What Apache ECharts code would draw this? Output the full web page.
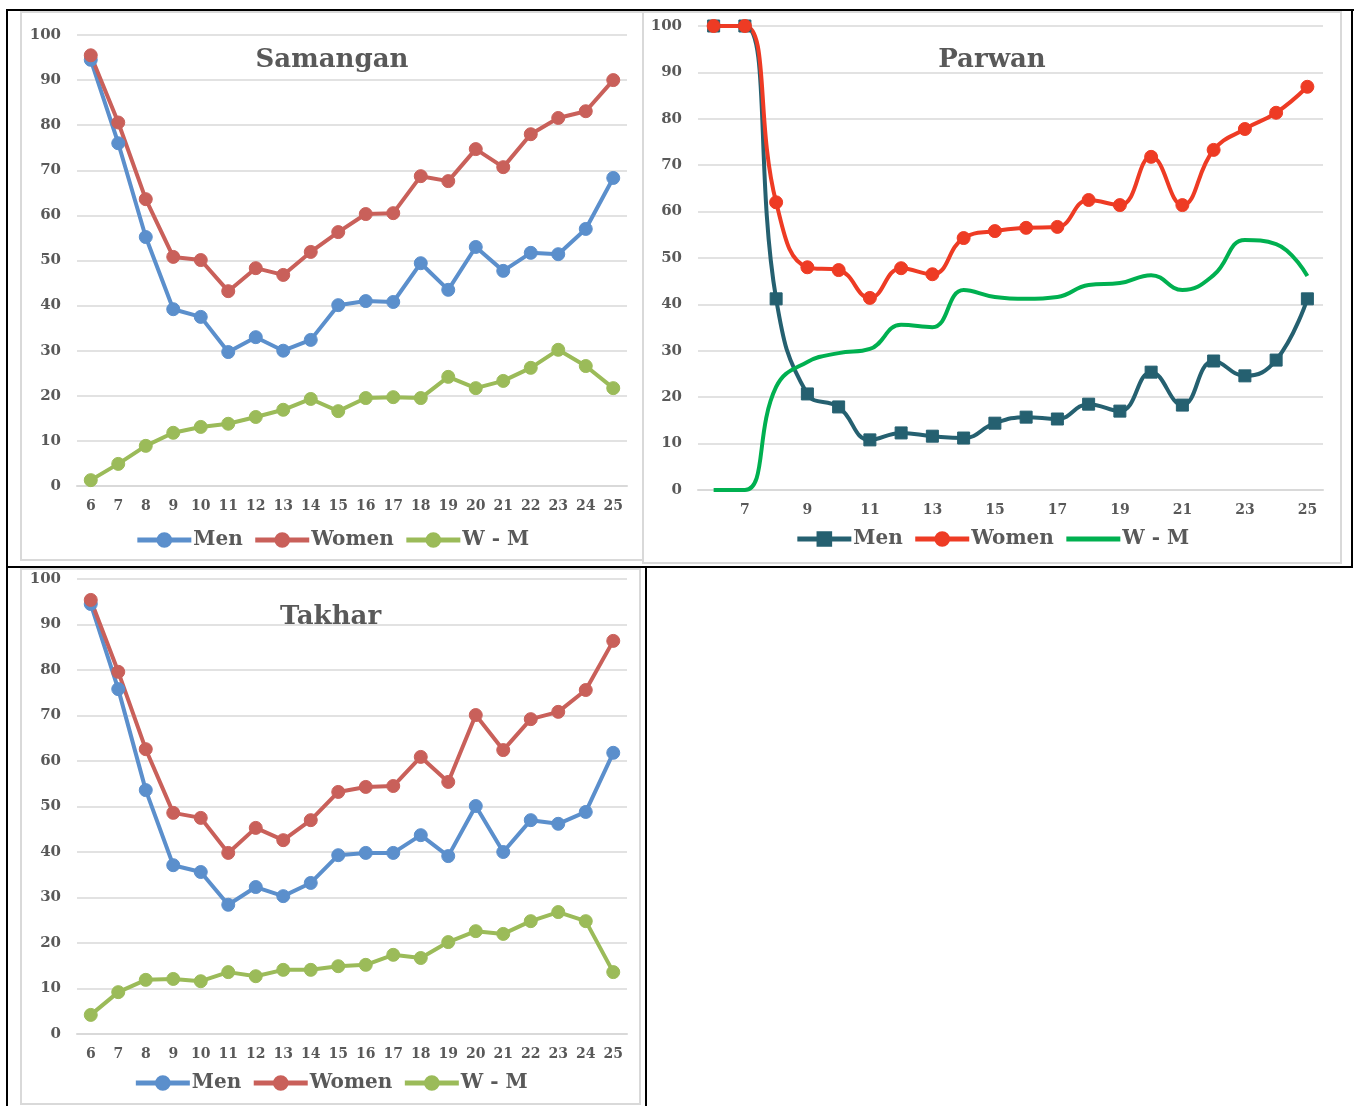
<!DOCTYPE html>
<html>
<head>
<meta charset="utf-8">
<script src="https://cdn.jsdelivr.net/npm/echarts@6/dist/echarts.min.js"></script>
<style>
  html, body { margin: 0; padding: 0; background: #fff; }
  body { width: 1357px; height: 1106px; position: relative; overflow: hidden; }
  .c { position: absolute; }
  .ln { position: absolute; background: #000; }
  .gb { position: absolute; border: 2px solid #d9d9d9; box-sizing: border-box; }
</style>
</head>
<body>
<div class="gb" style="left:20px;top:11px;width:624px;height:550px;"></div>
<div class="gb" style="left:642px;top:11px;width:700px;height:553px;"></div>
<div class="gb" style="left:20px;top:568px;width:621px;height:537px;"></div>
<div class="c" id="c1" style="left:21px;top:12px;width:622px;height:548px;"></div>
<div class="c" id="c2" style="left:643px;top:12px;width:698px;height:551px;"></div>
<div class="c" id="c3" style="left:21px;top:569px;width:619px;height:534px;"></div>
<div class="ln" style="left:6px;top:9px;width:1348px;height:2px;"></div>
<div class="ln" style="left:6px;top:9px;width:2px;height:1097px;"></div>
<div class="ln" style="left:1351px;top:9px;width:2px;height:559px;"></div>
<div class="ln" style="left:6px;top:566px;width:1347px;height:2px;"></div>
<div class="ln" style="left:645px;top:566px;width:2px;height:540px;"></div>
<script>
const ages = ['6','7','8','9','10','11','12','13','14','15','16','17','18','19','20','21','22','23','24','25'];

const samanganMen   = [94.5, 76.0, 55.2, 39.2, 37.5, 29.7, 33.0, 30.0, 32.4, 40.1, 41.0, 40.8, 49.4, 43.5, 53.0, 47.7, 51.7, 51.4, 57.0, 68.3];
const samanganWomen = [95.5, 80.6, 63.6, 50.8, 50.1, 43.2, 48.3, 46.8, 51.9, 56.3, 60.3, 60.5, 68.7, 67.6, 74.7, 70.7, 78.0, 81.6, 83.1, 90.0];
const samanganWM    = [1.3, 4.9, 8.9, 11.8, 13.1, 13.8, 15.3, 16.9, 19.3, 16.6, 19.5, 19.7, 19.5, 24.2, 21.7, 23.3, 26.2, 30.2, 26.6, 21.7];

const parwanMen   = [100, 100, 41.2, 20.7, 17.9, 10.8, 12.3, 11.6, 11.2, 14.4, 15.7, 15.3, 18.5, 17.0, 25.4, 18.3, 27.8, 24.6, 28.0, 41.2];
const parwanWomen = [100, 100, 62.0, 48.0, 47.4, 41.4, 47.8, 46.5, 54.3, 55.8, 56.5, 56.7, 62.5, 61.4, 71.8, 61.4, 73.3, 77.8, 81.3, 86.9];
const parwanWM    = [0, 0, 22.2, 27.6, 29.5, 30.4, 35.6, 35.1, 43.1, 41.6, 41.2, 41.6, 44.2, 44.6, 46.3, 43.1, 46.3, 53.9, 53.0, 46.1];

const takharMen   = [94.5, 75.8, 53.6, 37.1, 35.6, 28.4, 32.3, 30.3, 33.2, 39.3, 39.8, 39.8, 43.7, 39.1, 50.1, 40.0, 47.0, 46.2, 48.8, 61.8];
const takharWomen = [95.4, 79.6, 62.6, 48.6, 47.5, 39.8, 45.3, 42.6, 47.0, 53.2, 54.3, 54.5, 60.9, 55.4, 70.1, 62.4, 69.2, 70.8, 75.6, 86.4];
const takharWM    = [4.2, 9.2, 11.9, 12.1, 11.6, 13.6, 12.7, 14.1, 14.1, 14.9, 15.2, 17.4, 16.7, 20.2, 22.6, 22.0, 24.8, 26.8, 24.8, 13.6];

const seriesNames = ['Men', 'Women', 'W - M'];
const FONT = 'DejaVu Serif';
const TXT = '#595959';

function baseOption(title, grid, titleTop, legendBottom, labelInterval, legendData) {
  return {
    animation: false,
    title: {
      text: title, left: 'center', top: titleTop,
      textStyle: { fontFamily: FONT, fontWeight: 'bold', fontSize: 26, color: TXT }
    },
    legend: {
      data: legendData || seriesNames, bottom: legendBottom, left: 'center',
      itemWidth: 54, itemHeight: 17, itemGap: 10,
      lineStyle: { width: 5 },
      textStyle: { fontFamily: FONT, fontWeight: 'bold', fontSize: 20, color: TXT, padding: [0, 0, 0, -3] }
    },
    grid: grid,
    xAxis: {
      type: 'category', data: ages, boundaryGap: true,
      axisLine: { lineStyle: { color: '#d9d9d9', width: 2 } },
      axisTick: { show: false },
      axisLabel: { interval: labelInterval, margin: 13, fontFamily: FONT, fontWeight: 'bold', fontSize: 14, color: TXT }
    },
    yAxis: {
      type: 'value', min: 0, max: 100, interval: 10,
      axisLine: { show: false }, axisTick: { show: false },
      axisLabel: { margin: 16, fontFamily: FONT, fontWeight: 'bold', fontSize: 15, color: TXT },
      splitLine: { lineStyle: { color: '#d9d9d9', width: 1.5 } }
    }
  };
}

function lineSeries(name, data, color, symbol, smooth, showSymbol) {
  return {
    name: name, type: 'line', data: data, smooth: smooth,
    symbol: symbol, symbolSize: symbol === 'rect' ? 12 : 13, showSymbol: showSymbol,
    lineStyle: { color: color, width: 4 },
    itemStyle: { color: color, borderColor: color, borderWidth: 1 },
    emphasis: { disabled: true }
  };
}

// Samangan
const c1 = echarts.init(document.getElementById('c1'));
const o1 = baseOption('Samangan', { left: 56, right: 16, top: 23, bottom: 74 }, 30, 5, 0);
o1.series = [
  lineSeries('Men', samanganMen, '#5b8fcc', 'circle', false, true),
  lineSeries('Women', samanganWomen, '#c9605a', 'circle', false, true),
  lineSeries('W - M', samanganWM, '#9bbb59', 'circle', false, true)
];
c1.setOption(o1);

// Parwan
const c2 = echarts.init(document.getElementById('c2'));
const o2 = baseOption('Parwan', { left: 55, right: 18, top: 14, bottom: 73 }, 30, 9,
  function (i) { return i % 2 === 1; },
  ['Men', 'Women', { name: 'W - M', itemStyle: { opacity: 0 } }]);
o2.series = [
  lineSeries('Men', parwanMen, '#256070', 'rect', 0.45, true),
  lineSeries('Women', parwanWomen, '#ee3b24', 'circle', 0.45, true),
  lineSeries('W - M', parwanWM, '#00b050', 'none', 0.45, false)
];
c2.setOption(o2);

// Takhar
const c3 = echarts.init(document.getElementById('c3'));
const o3 = baseOption('Takhar', { left: 56, right: 13, top: 10, bottom: 69 }, 30, 5, 0);
o3.series = [
  lineSeries('Men', takharMen, '#5b8fcc', 'circle', false, true),
  lineSeries('Women', takharWomen, '#c9605a', 'circle', false, true),
  lineSeries('W - M', takharWM, '#9bbb59', 'circle', false, true)
];
c3.setOption(o3);
</script>
</body>
</html>
